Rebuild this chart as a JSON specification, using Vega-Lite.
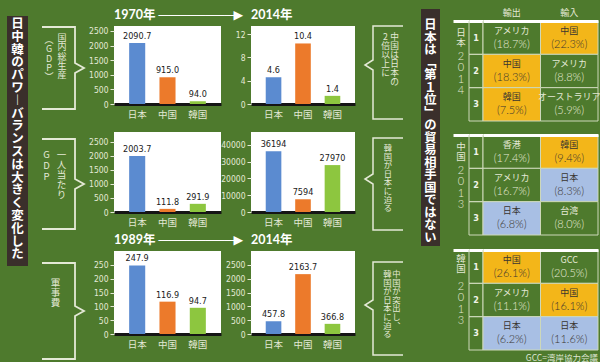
{
  "$schema": "https://vega.github.io/schema/vega-lite/v6.json",
  "background": "#4e7a2d",
  "padding": 0,
  "autosize": {"type": "pad"},
  "spacing": 0,
  "config": {
    "view": {"stroke": null},
    "concat": {"spacing": 0},
    "font": "Noto Sans CJK JP",
    "axisY": {"grid": false, "domain": false, "tickSize": 4, "tickColor": "#e4e9d6", "labelColor": "#e4e9d6", "labelFontSize": 8.5, "labelPadding": 2, "format": "d", "labelFont": "Liberation Sans Narrow, DejaVu Sans Condensed, sans-serif"},
    "axisX": {"ticks": false, "grid": false, "domainColor": "#151515", "domainWidth": 3, "labelColor": "#e4e9d6", "labelFontSize": 9.5, "labelPadding": 5, "labelAngle": 0, "zindex": 1, "labelFont": "Noto Sans CJK JP"}
  },
  "hconcat": [
    {"width": 7, "height": 362, "data": {"values": [{}]}, "mark": {"type": "point", "opacity": 0}, "encoding": {}},
    {"spacing": 0, "vconcat": [
      {"width": 21, "height": 13, "data": {"values": [{}]}, "mark": {"type": "point", "opacity": 0}, "encoding": {}},
      {"width": 21, "height": 250, "view": {"fill": "#3a2f2b"}, "data": {"values": [{}]},
       "mark": {"type": "text", "color": "white", "fontSize": 12.5, "fontWeight": "bold", "lineHeight": 12.8, "baseline": "top", "align": "center", "dy": -123, "font": "Noto Sans CJK JP"},
       "encoding": {"text": {"value": ["日","中","韓","の","パ","ワ","︱","バ","ラ","ン","ス","は","大","き","く","変","化","し","た"]}}}
    ]},
    {"width": 10, "height": 1, "data": {"values": [{}]}, "mark": {"type": "point", "opacity": 0}, "encoding": {}},
    {"spacing": 0, "vconcat": [
      {"width": 44, "height": 20, "data": {"values": [{}]}, "mark": {"type": "point", "opacity": 0}, "encoding": {}},
      {"width": 44, "height": 84, "data": {"values": [{}]}, "layer": [
        {"mark": {"type": "point", "shape": "M-2.1,-4.1L1.2,-4.1L1.2,-0.5L2.1,0L1.2,0.5L1.2,4.1L-2.1,4.1", "size": 400, "filled": false, "color": "#e4e9d6", "strokeWidth": 1.8, "opacity": 1}, "encoding": {}},
        {"mark": {"type": "text", "color": "#e4e9d6", "fontSize": 9, "lineHeight": 9.3, "baseline": "top", "dx": -1, "dy": -34}, "encoding": {"text": {"value": ["国","内","総","生","産"]}}},
        {"mark": {"type": "text", "color": "#e4e9d6", "fontSize": 9, "lineHeight": 9.3, "baseline": "top", "dx": -14, "dy": -32}, "encoding": {"text": {"value": ["︵","G","D","P","︶"]}}}
      ]},
      {"width": 44, "height": 22, "data": {"values": [{}]}, "mark": {"type": "point", "opacity": 0}, "encoding": {}},
      {"width": 44, "height": 92, "data": {"values": [{}]}, "layer": [
        {"mark": {"type": "point", "shape": "M-2.1,-4.5L1.2,-4.5L1.2,-0.5L2.1,0L1.2,0.5L1.2,4.5L-2.1,4.5", "size": 400, "filled": false, "color": "#e4e9d6", "strokeWidth": 1.8, "opacity": 1}, "encoding": {}},
        {"mark": {"type": "text", "color": "#e4e9d6", "fontSize": 9.5, "lineHeight": 10, "baseline": "top", "dx": -1.5, "dy": -34}, "encoding": {"text": {"value": ["一","人","当","た","り"]}}},
        {"mark": {"type": "text", "color": "#e4e9d6", "fontSize": 9.5, "lineHeight": 11, "baseline": "top", "dx": -16.5, "dy": -34}, "encoding": {"text": {"value": ["G","D","P"]}}}
      ]},
      {"width": 44, "height": 26, "data": {"values": [{}]}, "mark": {"type": "point", "opacity": 0}, "encoding": {}},
      {"width": 44, "height": 98, "data": {"values": [{}]}, "layer": [
        {"mark": {"type": "point", "shape": "M-2.1,-4.8L1.2,-4.8L1.2,-0.5L2.1,0L1.2,0.5L1.2,4.8L-2.1,4.8", "size": 400, "filled": false, "color": "#e4e9d6", "strokeWidth": 1.8, "opacity": 1}, "encoding": {}},
        {"mark": {"type": "text", "color": "#e4e9d6", "fontSize": 9.5, "lineHeight": 10, "baseline": "top", "dx": -7.5, "dy": -33}, "encoding": {"text": {"value": ["軍","事","費"]}}}
      ]}
    ]},
    {"spacing": 0, "vconcat": [
      {"width": 241, "height": 4, "data": {"values": [{}]}, "mark": {"type": "point", "opacity": 0}, "encoding": {}},
      {"spacing": 0, "bounds": "flush", "hconcat": [
        {"width": 107, "height": 78, "view": {"fill": "white"},
         "title": {"text": "1970年 ────────▶", "anchor": "start", "frame": "group", "fontSize": 12.5, "fontWeight": "bold", "color": "white", "font": "Lato, DejaVu Sans, Noto Sans CJK JP", "offset": 5},
         "data": {"values": [{"country": "日本", "value": 2090.7}, {"country": "中国", "value": 915.0}, {"country": "韓国", "value": 94.0}]},
         "encoding": {
           "x": {"field": "country", "type": "nominal", "sort": ["日本","中国","韓国"], "scale": {"paddingInner": 0.47, "paddingOuter": 0.5}, "axis": {"title": null, "labelAngle": 0}},
           "y": {"field": "value", "type": "quantitative", "scale": {"domain": [0, 2670], "nice": false}, "axis": {"title": null, "values": [0,500,1000,1500,2000,2500], "format": "d"}}
         },
         "layer": [
           {"mark": {"type": "bar"}, "encoding": {"color": {"field": "country", "type": "nominal", "scale": {"domain": ["日本","中国","韓国"], "range": ["#5b8bd0","#ec7a2b","#8dc63f"]}, "legend": null}}},
           {"mark": {"type": "text", "baseline": "bottom", "dy": -2, "fontSize": 9, "color": "#1a1a1a", "font": "Liberation Sans Narrow, DejaVu Sans Condensed, sans-serif"}, "encoding": {"text": {"field": "value", "type": "quantitative", "format": ".1f"}}},
           {"data": {"values": [{"unit": "(億米ドル)"}]}, "mark": {"type": "text", "baseline": "top", "dy": 4, "dx": 2, "fontSize": 7.5, "color": "#1a1a1a"}, "encoding": {"x": {"datum": "韓国"}, "y": {"datum": 2670}, "text": {"field": "unit", "type": "nominal"}}}
         ]},
        {"width": 30, "height": 1, "data": {"values": [{}]}, "mark": {"type": "point", "opacity": 0}, "encoding": {}},
        {"width": 104, "height": 78, "view": {"fill": "white"},
         "title": {"text": "2014年", "anchor": "start", "frame": "group", "fontSize": 12.5, "fontWeight": "bold", "color": "white", "font": "Lato, DejaVu Sans, Noto Sans CJK JP", "offset": 5},
         "data": {"values": [{"country": "日本", "value": 4.6}, {"country": "中国", "value": 10.4}, {"country": "韓国", "value": 1.4}]},
         "encoding": {
           "x": {"field": "country", "type": "nominal", "sort": ["日本","中国","韓国"], "scale": {"paddingInner": 0.47, "paddingOuter": 0.5}, "axis": {"title": null, "labelAngle": 0}},
           "y": {"field": "value", "type": "quantitative", "scale": {"domain": [0, 13.4], "nice": false}, "axis": {"title": null, "values": [0,4,8,12], "format": "d"}}
         },
         "layer": [
           {"mark": {"type": "bar"}, "encoding": {"color": {"field": "country", "type": "nominal", "scale": {"domain": ["日本","中国","韓国"], "range": ["#5b8bd0","#ec7a2b","#8dc63f"]}, "legend": null}}},
           {"mark": {"type": "text", "baseline": "bottom", "dy": -2, "fontSize": 9, "color": "#1a1a1a", "font": "Liberation Sans Narrow, DejaVu Sans Condensed, sans-serif"}, "encoding": {"text": {"field": "value", "type": "quantitative", "format": ".1f"}}},
           {"data": {"values": [{"unit": "(兆米ドル)"}]}, "mark": {"type": "text", "baseline": "top", "dy": 4, "dx": 0, "fontSize": 7.5, "color": "#1a1a1a"}, "encoding": {"x": {"datum": "韓国"}, "y": {"datum": 13.4}, "text": {"field": "unit", "type": "nominal"}}}
         ]}
      ]},
      {"width": 241, "height": 10, "data": {"values": [{}]}, "mark": {"type": "point", "opacity": 0}, "encoding": {}},
      {"spacing": 0, "bounds": "flush", "hconcat": [
        {"width": 107, "height": 80, "view": {"fill": "white"},
         "data": {"values": [{"country": "日本", "value": 2003.7}, {"country": "中国", "value": 111.8}, {"country": "韓国", "value": 291.9}]},
         "encoding": {
           "x": {"field": "country", "type": "nominal", "sort": ["日本","中国","韓国"], "scale": {"paddingInner": 0.47, "paddingOuter": 0.5}, "axis": {"title": null, "labelAngle": 0}},
           "y": {"field": "value", "type": "quantitative", "scale": {"domain": [0, 2857], "nice": false}, "axis": {"title": null, "values": [0,500,1000,1500,2000,2500], "format": "d"}}
         },
         "layer": [
           {"mark": {"type": "bar"}, "encoding": {"color": {"field": "country", "type": "nominal", "scale": {"domain": ["日本","中国","韓国"], "range": ["#5b8bd0","#ec7a2b","#8dc63f"]}, "legend": null}}},
           {"mark": {"type": "text", "baseline": "bottom", "dy": -2, "fontSize": 9, "color": "#1a1a1a", "font": "Liberation Sans Narrow, DejaVu Sans Condensed, sans-serif"}, "encoding": {"text": {"field": "value", "type": "quantitative", "format": ".1f"}}},
           {"data": {"values": [{"unit": "(米ドル)"}]}, "mark": {"type": "text", "baseline": "top", "dy": 4, "dx": 4, "fontSize": 7.5, "color": "#1a1a1a"}, "encoding": {"x": {"datum": "韓国"}, "y": {"datum": 2857}, "text": {"field": "unit", "type": "nominal"}}}
         ]},
        {"width": 30, "height": 1, "data": {"values": [{}]}, "mark": {"type": "point", "opacity": 0}, "encoding": {}},
        {"width": 104, "height": 80, "view": {"fill": "white"},
         "data": {"values": [{"country": "日本", "value": 36194}, {"country": "中国", "value": 7594}, {"country": "韓国", "value": 27970}]},
         "encoding": {
           "x": {"field": "country", "type": "nominal", "sort": ["日本","中国","韓国"], "scale": {"paddingInner": 0.47, "paddingOuter": 0.5}, "axis": {"title": null, "labelAngle": 0}},
           "y": {"field": "value", "type": "quantitative", "scale": {"domain": [0, 47700], "nice": false}, "axis": {"title": null, "values": [0,10000,20000,30000,40000], "format": "d"}}
         },
         "layer": [
           {"mark": {"type": "bar"}, "encoding": {"color": {"field": "country", "type": "nominal", "scale": {"domain": ["日本","中国","韓国"], "range": ["#5b8bd0","#ec7a2b","#8dc63f"]}, "legend": null}}},
           {"mark": {"type": "text", "baseline": "bottom", "dy": -2, "fontSize": 9, "color": "#1a1a1a", "font": "Liberation Sans Narrow, DejaVu Sans Condensed, sans-serif"}, "encoding": {"text": {"field": "value", "type": "quantitative", "format": "d"}}},
           {"data": {"values": [{"unit": "(米ドル)"}]}, "mark": {"type": "text", "baseline": "top", "dy": 4, "dx": 2, "fontSize": 7.5, "color": "#1a1a1a"}, "encoding": {"x": {"datum": "韓国"}, "y": {"datum": 47700}, "text": {"field": "unit", "type": "nominal"}}}
         ]}
      ]},
      {"width": 241, "height": 6, "data": {"values": [{}]}, "mark": {"type": "point", "opacity": 0}, "encoding": {}},
      {"spacing": 0, "bounds": "flush", "hconcat": [
        {"width": 107, "height": 83, "view": {"fill": "white"},
         "title": {"text": "1989年 ────────▶", "anchor": "start", "frame": "group", "fontSize": 12.5, "fontWeight": "bold", "color": "white", "font": "Lato, DejaVu Sans, Noto Sans CJK JP", "offset": 5},
         "data": {"values": [{"country": "日本", "value": 247.9}, {"country": "中国", "value": 116.9}, {"country": "韓国", "value": 94.7}]},
         "encoding": {
           "x": {"field": "country", "type": "nominal", "sort": ["日本","中国","韓国"], "scale": {"paddingInner": 0.47, "paddingOuter": 0.5}, "axis": {"title": null, "labelAngle": 0}},
           "y": {"field": "value", "type": "quantitative", "scale": {"domain": [0, 300], "nice": false}, "axis": {"title": null, "values": [0,50,100,150,200,250], "format": "d"}}
         },
         "layer": [
           {"mark": {"type": "bar"}, "encoding": {"color": {"field": "country", "type": "nominal", "scale": {"domain": ["日本","中国","韓国"], "range": ["#5b8bd0","#ec7a2b","#8dc63f"]}, "legend": null}}},
           {"mark": {"type": "text", "baseline": "bottom", "dy": -2, "fontSize": 9, "color": "#1a1a1a", "font": "Liberation Sans Narrow, DejaVu Sans Condensed, sans-serif"}, "encoding": {"text": {"field": "value", "type": "quantitative", "format": ".1f"}}},
           {"data": {"values": [{"unit": "(億米ドル)"}]}, "mark": {"type": "text", "baseline": "top", "dy": 4, "dx": 2, "fontSize": 7.5, "color": "#1a1a1a"}, "encoding": {"x": {"datum": "韓国"}, "y": {"datum": 300}, "text": {"field": "unit", "type": "nominal"}}}
         ]},
        {"width": 30, "height": 1, "data": {"values": [{}]}, "mark": {"type": "point", "opacity": 0}, "encoding": {}},
        {"width": 104, "height": 83, "view": {"fill": "white"},
         "title": {"text": "2014年", "anchor": "start", "frame": "group", "fontSize": 12.5, "fontWeight": "bold", "color": "white", "font": "Lato, DejaVu Sans, Noto Sans CJK JP", "offset": 5},
         "data": {"values": [{"country": "日本", "value": 457.8}, {"country": "中国", "value": 2163.7}, {"country": "韓国", "value": 366.8}]},
         "encoding": {
           "x": {"field": "country", "type": "nominal", "sort": ["日本","中国","韓国"], "scale": {"paddingInner": 0.47, "paddingOuter": 0.5}, "axis": {"title": null, "labelAngle": 0}},
           "y": {"field": "value", "type": "quantitative", "scale": {"domain": [0, 3000], "nice": false}, "axis": {"title": null, "values": [0,500,1000,1500,2000,2500], "format": "d"}}
         },
         "layer": [
           {"mark": {"type": "bar"}, "encoding": {"color": {"field": "country", "type": "nominal", "scale": {"domain": ["日本","中国","韓国"], "range": ["#5b8bd0","#ec7a2b","#8dc63f"]}, "legend": null}}},
           {"mark": {"type": "text", "baseline": "bottom", "dy": -2, "fontSize": 9, "color": "#1a1a1a", "font": "Liberation Sans Narrow, DejaVu Sans Condensed, sans-serif"}, "encoding": {"text": {"field": "value", "type": "quantitative", "format": ".1f"}}},
           {"data": {"values": [{"unit": "(億米ドル)"}]}, "mark": {"type": "text", "baseline": "top", "dy": 4, "dx": 0, "fontSize": 7.5, "color": "#1a1a1a"}, "encoding": {"x": {"datum": "韓国"}, "y": {"datum": 3000}, "text": {"field": "unit", "type": "nominal"}}}
         ]}
      ]}
    ]},
    {"spacing": 0, "vconcat": [
      {"width": 66, "height": 20, "data": {"values": [{}]}, "mark": {"type": "point", "opacity": 0}, "encoding": {}},
      {"width": 66, "height": 95, "data": {"values": [{}]}, "layer": [
        {"mark": {"type": "point", "shape": "M1.5,-4.65L-1.5,-4.65L-1.5,-1.25L-2.3,-0.75L-1.5,-0.25L-1.5,4.65L1.5,4.65", "size": 400, "filled": false, "color": "#e4e9d6", "strokeWidth": 1.5, "opacity": 1}, "encoding": {}},
        {"mark": {"type": "text", "color": "#e4e9d6", "fontSize": 8.7, "lineHeight": 9, "baseline": "top", "dx": 6.5, "dy": -39.5}, "encoding": {"text": {"value": ["中","国","は","日","本","の"]}}},
        {"mark": {"type": "text", "color": "#e4e9d6", "fontSize": 8.7, "lineHeight": 9, "baseline": "top", "dx": -2.5, "dy": -39.5}, "encoding": {"text": {"value": ["2","倍","以","上","に"]}}}
      ]},
      {"width": 66, "height": 13, "data": {"values": [{}]}, "mark": {"type": "point", "opacity": 0}, "encoding": {}},
      {"width": 66, "height": 94, "data": {"values": [{}]}, "layer": [
        {"mark": {"type": "point", "shape": "M1.5,-4.6L-1.5,-4.6L-1.5,-1L-2.3,-0.5L-1.5,0L-1.5,4.6L1.5,4.6", "size": 400, "filled": false, "color": "#e4e9d6", "strokeWidth": 1.5, "opacity": 1}, "encoding": {}},
        {"mark": {"type": "text", "color": "#e4e9d6", "fontSize": 8.3, "lineHeight": 8.6, "baseline": "top", "dx": 0, "dy": -40}, "encoding": {"text": {"value": ["韓","国","が","日","本","に","迫","る"]}}}
      ]},
      {"width": 66, "height": 26, "data": {"values": [{}]}, "mark": {"type": "point", "opacity": 0}, "encoding": {}},
      {"width": 66, "height": 95, "data": {"values": [{}]}, "layer": [
        {"mark": {"type": "point", "shape": "M1.5,-4.65L-1.5,-4.65L-1.5,-0.85L-2.3,-0.35L-1.5,0.15L-1.5,4.65L1.5,4.65", "size": 400, "filled": false, "color": "#e4e9d6", "strokeWidth": 1.5, "opacity": 1}, "encoding": {}},
        {"mark": {"type": "text", "color": "#e4e9d6", "fontSize": 8.3, "lineHeight": 8.6, "baseline": "top", "dx": 8.5, "dy": -38.5}, "encoding": {"text": {"value": ["中","国","が","突","出","し","︑"]}}},
        {"mark": {"type": "text", "color": "#e4e9d6", "fontSize": 8.3, "lineHeight": 8.6, "baseline": "top", "dx": -0.5, "dy": -38.5}, "encoding": {"text": {"value": ["韓","国","が","日","本","に","迫","る"]}}}
      ]}
    ]},
    {"spacing": 0, "vconcat": [
      {"width": 19, "height": 5, "data": {"values": [{}]}, "mark": {"type": "point", "opacity": 0}, "encoding": {}},
      {"width": 19, "height": 237, "view": {"fill": "#3a2f2b"}, "data": {"values": [{}]},
       "mark": {"type": "text", "color": "white", "fontSize": 12.3, "fontWeight": "bold", "lineHeight": 12.5, "baseline": "top", "align": "center", "dy": -108.5, "font": "Noto Sans CJK JP"},
       "encoding": {"text": {"value": ["日","本","は","﹁","第","１","位","﹂","の","貿","易","相","手","国","で","は","な","い"]}}}
    ]},
    {"width": 13, "height": 1, "data": {"values": [{}]}, "mark": {"type": "point", "opacity": 0}, "encoding": {}},
    {"spacing": 0, "vconcat": [
      {"width": 145, "height": 3, "data": {"values": [{}]}, "mark": {"type": "point", "opacity": 0}, "encoding": {}},
      {"spacing": 0, "bounds": "flush", "hconcat": [
        {"width": 16, "height": 100, "data": {"values": [{"t": "日本2014"}]},
         "encoding": {"x": {"field": "t", "type": "nominal", "scale": {"paddingInner": 0, "paddingOuter": 0}, "axis": {"orient": "top", "title": null, "labels": false, "ticks": false, "domainColor": "white", "domainWidth": 3, "zindex": 1}}},
         "layer": [
           {"mark": {"type": "text", "color": "#e4e9d6", "fontSize": 9.5, "lineHeight": 10, "baseline": "top", "dy": -43}, "encoding": {"text": {"value": ["日","本"]}}},
           {"mark": {"type": "text", "color": "#e4e9d6", "fontSize": 11, "lineHeight": 11.3, "baseline": "top", "dy": -20, "font": "Lato", "fontWeight": 300}, "encoding": {"text": {"value": ["2","0","1","4"]}}}
         ]},
        {"width": 14, "height": 100, "data": {"values": [{"t": "順位", "rank": 1}, {"t": "順位", "rank": 2}, {"t": "順位", "rank": 3}]},
         "encoding": {"x": {"field": "t", "type": "nominal", "scale": {"paddingInner": 0, "paddingOuter": 0}, "axis": {"orient": "top", "title": null, "labels": false, "ticks": false, "domainColor": "white", "domainWidth": 3, "zindex": 1}},
                      "y": {"field": "rank", "type": "ordinal", "scale": {"paddingInner": 0, "paddingOuter": 0}, "axis": null}},
         "layer": [
           {"mark": {"type": "rect", "fill": "transparent", "stroke": "#cdd8ba", "strokeWidth": 1}},
           {"mark": {"type": "text", "color": "#f0f3e8", "fontSize": 9, "fontWeight": "bold", "font": "Liberation Sans Narrow, DejaVu Sans Condensed, sans-serif"}, "encoding": {"text": {"field": "rank", "type": "ordinal"}}}
         ]},
        {"width": 115, "height": 100, "data": {"values": [
           {"dir": "輸出", "rank": 1, "partner": "アメリカ", "pct": "(18.7%)"},
           {"dir": "輸入", "rank": 1, "partner": "中国", "pct": "(22.3%)"},
           {"dir": "輸出", "rank": 2, "partner": "中国", "pct": "(18.3%)"},
           {"dir": "輸入", "rank": 2, "partner": "アメリカ", "pct": "(8.8%)"},
           {"dir": "輸出", "rank": 3, "partner": "韓国", "pct": "(7.5%)"},
           {"dir": "輸入", "rank": 3, "partner": "オーストラリア", "pct": "(5.9%)"}]},
         "encoding": {"x": {"field": "dir", "type": "nominal", "sort": ["輸出","輸入"], "scale": {"paddingInner": 0, "paddingOuter": 0}, "axis": {"orient": "top", "title": null, "labels": true, "labelAngle": 0, "labelColor": "#e4e9d6", "labelFontSize": 9, "labelPadding": 4, "ticks": false, "domainColor": "white", "domainWidth": 3, "zindex": 1}},
                      "y": {"field": "rank", "type": "ordinal", "scale": {"paddingInner": 0, "paddingOuter": 0}, "axis": null}},
         "layer": [
           {"mark": {"type": "rect", "stroke": "#cdd8ba", "strokeWidth": 1}, "encoding": {"fill": {"field": "partner", "type": "nominal", "scale": {"domain": ["中国","韓国","日本","アメリカ","オーストラリア","香港","台湾","GCC"], "range": ["#f3b619","#f3b619","#a8bfe4","#4e7a2d","#4e7a2d","#4e7a2d","#4e7a2d","#4e7a2d"]}, "legend": null}}},
           {"mark": {"type": "text", "fontSize": 9, "dy": -7}, "encoding": {"text": {"field": "partner", "type": "nominal"}, "color": {"condition": {"test": "indexof(['中国','韓国','日本'], datum.partner) >= 0", "value": "#3a3530"}, "value": "#e4e9d6"}}},
           {"mark": {"type": "text", "fontSize": 11, "dy": 7, "font": "Lato", "fontWeight": 300}, "encoding": {"text": {"field": "pct", "type": "nominal"}, "color": {"condition": {"test": "indexof(['中国','韓国','日本'], datum.partner) >= 0", "value": "#3a3530"}, "value": "#e4e9d6"}}}
         ]}
      ]},
      {"width": 145, "height": 11.5, "data": {"values": [{}]}, "mark": {"type": "point", "opacity": 0}, "encoding": {}},
      {"spacing": 0, "bounds": "flush", "hconcat": [
        {"width": 16, "height": 100, "data": {"values": [{"t": "中国2013"}]},
         "encoding": {"x": {"field": "t", "type": "nominal", "scale": {"paddingInner": 0, "paddingOuter": 0}, "axis": {"orient": "top", "title": null, "labels": false, "ticks": false, "domainColor": "white", "domainWidth": 3, "zindex": 1}}},
         "layer": [
           {"mark": {"type": "text", "color": "#e4e9d6", "fontSize": 9.5, "lineHeight": 10, "baseline": "top", "dy": -43}, "encoding": {"text": {"value": ["中","国"]}}},
           {"mark": {"type": "text", "color": "#e4e9d6", "fontSize": 11, "lineHeight": 11.3, "baseline": "top", "dy": -20, "font": "Lato", "fontWeight": 300}, "encoding": {"text": {"value": ["2","0","1","3"]}}}
         ]},
        {"width": 14, "height": 100, "data": {"values": [{"t": "順位", "rank": 1}, {"t": "順位", "rank": 2}, {"t": "順位", "rank": 3}]},
         "encoding": {"x": {"field": "t", "type": "nominal", "scale": {"paddingInner": 0, "paddingOuter": 0}, "axis": {"orient": "top", "title": null, "labels": false, "ticks": false, "domainColor": "white", "domainWidth": 3, "zindex": 1}},
                      "y": {"field": "rank", "type": "ordinal", "scale": {"paddingInner": 0, "paddingOuter": 0}, "axis": null}},
         "layer": [
           {"mark": {"type": "rect", "fill": "transparent", "stroke": "#cdd8ba", "strokeWidth": 1}},
           {"mark": {"type": "text", "color": "#f0f3e8", "fontSize": 9, "fontWeight": "bold", "font": "Liberation Sans Narrow, DejaVu Sans Condensed, sans-serif"}, "encoding": {"text": {"field": "rank", "type": "ordinal"}}}
         ]},
        {"width": 115, "height": 100, "data": {"values": [
           {"dir": "輸出", "rank": 1, "partner": "香港", "pct": "(17.4%)"},
           {"dir": "輸入", "rank": 1, "partner": "韓国", "pct": "(9.4%)"},
           {"dir": "輸出", "rank": 2, "partner": "アメリカ", "pct": "(16.7%)"},
           {"dir": "輸入", "rank": 2, "partner": "日本", "pct": "(8.3%)"},
           {"dir": "輸出", "rank": 3, "partner": "日本", "pct": "(6.8%)"},
           {"dir": "輸入", "rank": 3, "partner": "台湾", "pct": "(8.0%)"}]},
         "encoding": {"x": {"field": "dir", "type": "nominal", "sort": ["輸出","輸入"], "scale": {"paddingInner": 0, "paddingOuter": 0}, "axis": {"orient": "top", "title": null, "labels": false, "ticks": false, "domainColor": "white", "domainWidth": 3, "zindex": 1}},
                      "y": {"field": "rank", "type": "ordinal", "scale": {"paddingInner": 0, "paddingOuter": 0}, "axis": null}},
         "layer": [
           {"mark": {"type": "rect", "stroke": "#cdd8ba", "strokeWidth": 1}, "encoding": {"fill": {"field": "partner", "type": "nominal", "scale": {"domain": ["中国","韓国","日本","アメリカ","オーストラリア","香港","台湾","GCC"], "range": ["#f3b619","#f3b619","#a8bfe4","#4e7a2d","#4e7a2d","#4e7a2d","#4e7a2d","#4e7a2d"]}, "legend": null}}},
           {"mark": {"type": "text", "fontSize": 9, "dy": -7}, "encoding": {"text": {"field": "partner", "type": "nominal"}, "color": {"condition": {"test": "indexof(['中国','韓国','日本'], datum.partner) >= 0", "value": "#3a3530"}, "value": "#e4e9d6"}}},
           {"mark": {"type": "text", "fontSize": 11, "dy": 7, "font": "Lato", "fontWeight": 300}, "encoding": {"text": {"field": "pct", "type": "nominal"}, "color": {"condition": {"test": "indexof(['中国','韓国','日本'], datum.partner) >= 0", "value": "#3a3530"}, "value": "#e4e9d6"}}}
         ]}
      ]},
      {"width": 145, "height": 12.5, "data": {"values": [{}]}, "mark": {"type": "point", "opacity": 0}, "encoding": {}},
      {"spacing": 0, "bounds": "flush", "hconcat": [
        {"width": 16, "height": 100, "data": {"values": [{"t": "韓国2013"}]},
         "encoding": {"x": {"field": "t", "type": "nominal", "scale": {"paddingInner": 0, "paddingOuter": 0}, "axis": {"orient": "top", "title": null, "labels": false, "ticks": false, "domainColor": "white", "domainWidth": 3, "zindex": 1}}},
         "layer": [
           {"mark": {"type": "text", "color": "#e4e9d6", "fontSize": 9.5, "lineHeight": 10, "baseline": "top", "dy": -46}, "encoding": {"text": {"value": ["韓","国"]}}},
           {"mark": {"type": "text", "color": "#e4e9d6", "fontSize": 11, "lineHeight": 11.3, "baseline": "top", "dy": -19, "font": "Lato", "fontWeight": 300}, "encoding": {"text": {"value": ["2","0","1","3"]}}}
         ]},
        {"width": 14, "height": 100, "data": {"values": [{"t": "順位", "rank": 1}, {"t": "順位", "rank": 2}, {"t": "順位", "rank": 3}]},
         "encoding": {"x": {"field": "t", "type": "nominal", "scale": {"paddingInner": 0, "paddingOuter": 0}, "axis": {"orient": "top", "title": null, "labels": false, "ticks": false, "domainColor": "white", "domainWidth": 3, "zindex": 1}},
                      "y": {"field": "rank", "type": "ordinal", "scale": {"paddingInner": 0, "paddingOuter": 0}, "axis": null}},
         "layer": [
           {"mark": {"type": "rect", "fill": "transparent", "stroke": "#cdd8ba", "strokeWidth": 1}},
           {"mark": {"type": "text", "color": "#f0f3e8", "fontSize": 9, "fontWeight": "bold", "font": "Liberation Sans Narrow, DejaVu Sans Condensed, sans-serif"}, "encoding": {"text": {"field": "rank", "type": "ordinal"}}}
         ]},
        {"width": 115, "height": 100,
         "title": {"text": "GCC=湾岸協力会議", "orient": "bottom", "anchor": "end", "frame": "group", "fontSize": 8.5, "fontWeight": "normal", "color": "#dfe6d3", "offset": 3, "font": "Noto Sans CJK JP"},
         "data": {"values": [
           {"dir": "輸出", "rank": 1, "partner": "中国", "pct": "(26.1%)"},
           {"dir": "輸入", "rank": 1, "partner": "GCC", "pct": "(20.5%)"},
           {"dir": "輸出", "rank": 2, "partner": "アメリカ", "pct": "(11.1%)"},
           {"dir": "輸入", "rank": 2, "partner": "中国", "pct": "(16.1%)"},
           {"dir": "輸出", "rank": 3, "partner": "日本", "pct": "(6.2%)"},
           {"dir": "輸入", "rank": 3, "partner": "日本", "pct": "(11.6%)"}]},
         "encoding": {"x": {"field": "dir", "type": "nominal", "sort": ["輸出","輸入"], "scale": {"paddingInner": 0, "paddingOuter": 0}, "axis": {"orient": "top", "title": null, "labels": false, "ticks": false, "domainColor": "white", "domainWidth": 3, "zindex": 1}},
                      "y": {"field": "rank", "type": "ordinal", "scale": {"paddingInner": 0, "paddingOuter": 0}, "axis": null}},
         "layer": [
           {"mark": {"type": "rect", "stroke": "#cdd8ba", "strokeWidth": 1}, "encoding": {"fill": {"field": "partner", "type": "nominal", "scale": {"domain": ["中国","韓国","日本","アメリカ","オーストラリア","香港","台湾","GCC"], "range": ["#f3b619","#f3b619","#a8bfe4","#4e7a2d","#4e7a2d","#4e7a2d","#4e7a2d","#4e7a2d"]}, "legend": null}}},
           {"mark": {"type": "text", "fontSize": 9, "dy": -7}, "encoding": {"text": {"field": "partner", "type": "nominal"}, "color": {"condition": {"test": "indexof(['中国','韓国','日本'], datum.partner) >= 0", "value": "#3a3530"}, "value": "#e4e9d6"}}},
           {"mark": {"type": "text", "fontSize": 11, "dy": 7, "font": "Lato", "fontWeight": 300}, "encoding": {"text": {"field": "pct", "type": "nominal"}, "color": {"condition": {"test": "indexof(['中国','韓国','日本'], datum.partner) >= 0", "value": "#3a3530"}, "value": "#e4e9d6"}}}
         ]}
      ]}
    ]},
    {"width": 10, "height": 1, "data": {"values": [{}]}, "mark": {"type": "point", "opacity": 0}, "encoding": {}}
  ]
}
